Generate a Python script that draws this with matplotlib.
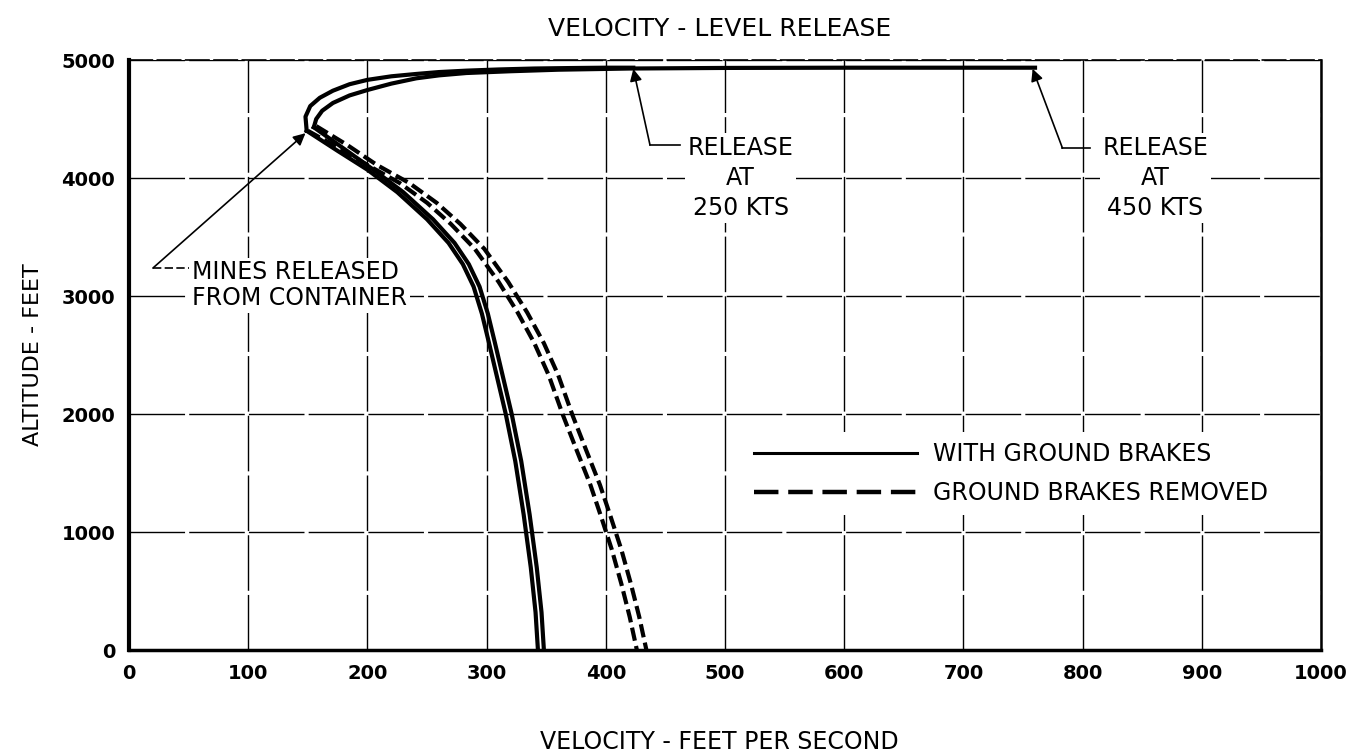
from matplotlib import pyplot as plt
from matplotlib.lines import Line2D

# velocity (ft/s) and altitude (ft)
# path before the mines leave the container (same for both brake cases)
top250V = [423, 400, 370, 340, 310, 283, 260, 241, 220, 200, 185, 171, 160, 152, 148, 149]
top250H = [4935, 4935, 4932, 4928, 4920, 4910, 4898, 4882, 4862, 4832, 4795, 4740, 4680, 4610, 4520, 4400]
top450V = [760, 700, 600, 500, 420, 360, 320, 283, 260, 241, 220, 200, 185, 171, 162, 157, 155]
top450H = [4935, 4935, 4935, 4933, 4928, 4918, 4905, 4890, 4870, 4845, 4800, 4746, 4700, 4636, 4570, 4500, 4430]

# with ground brakes
solidH = [4070, 3880, 3650, 3450, 3270, 3080, 2850, 2600, 2300, 2000, 1600, 1150, 700, 320, 0]
solid250V = [149, 175, 200, 225, 250, 268, 280, 289, 296, 302, 309, 316, 324, 331, 337, 341, 343]
solid250H = [4400, 4230] + solidH
solid450V = [155, 180, 205, 230, 255, 273, 285, 294, 301, 307, 314, 321, 329, 336, 342, 346, 348]
solid450H = [4430, 4250] + solidH

# ground brakes removed
dashH = [4110, 3958, 3790, 3610, 3400, 3120, 2860, 2600, 2330, 1990, 1680, 1400, 1130, 850, 560, 280, 0]
dash250V = [150, 175, 200, 227, 250, 270, 290, 310, 326, 340, 352, 364, 376, 387, 396, 405, 413, 420, 426]
dash250H = [4400, 4260] + dashH
dash450V = [157, 183, 208, 235, 258, 278, 298, 318, 334, 348, 360, 372, 384, 395, 404, 413, 421, 428, 434]
dash450H = [4440, 4280] + dashH

xTicks = [0, 100, 200, 300, 400, 500, 600, 700, 800, 900, 1000]
yTicks = [0, 1000, 2000, 3000, 4000, 5000]

fig = plt.figure(figsize=(13.5, 7.56), dpi=100)
ax = fig.add_axes([0.0956, 0.1402, 0.883, 0.7804])

ax.set_xlim(0, 1000)
ax.set_ylim(0, 5000)
ax.set_xticks(xTicks)
ax.set_yticks(yTicks)
ax.tick_params(length=0, labelsize=14, pad=10)
for lab in ax.get_xticklabels() + ax.get_yticklabels():
    lab.set_fontweight('bold')
ax.grid(True, color='black', linewidth=1.0, linestyle=(0, (40, 3)))
ax.set_axisbelow(True)
ax.spines['left'].set_linewidth(3)
ax.spines['bottom'].set_linewidth(2.5)
ax.spines['top'].set_linewidth(1.2)
ax.spines['top'].set_linestyle((0, (14, 3)))
ax.spines['right'].set_linewidth(1.8)

lw = 3.0
dash = (0, (3.2, 1.3))
ax.plot(top250V, top250H, color='black', linewidth=lw, zorder=3)
ax.plot(top450V, top450H, color='black', linewidth=lw, zorder=3)
ax.plot(solid250V, solid250H, color='black', linewidth=lw, zorder=3)
ax.plot(solid450V, solid450H, color='black', linewidth=lw, zorder=3)
ax.plot(dash250V, dash250H, color='black', linewidth=lw, linestyle=dash, zorder=3)
ax.plot(dash450V, dash450H, color='black', linewidth=lw, linestyle=dash, zorder=3)

white = dict(facecolor='white', edgecolor='none', pad=2)
arrow = dict(arrowstyle='-|>', color='black', linewidth=1.2, mutation_scale=18,
             shrinkA=0, shrinkB=0)

# mines released from container
ax.text(53, 3090, "MINES RELEASED\nFROM CONTAINER", fontsize=17,
        ha='left', va='center', linespacing=1.1, bbox=white, zorder=4)
ax.annotate('', xy=(148, 4380), xytext=(20, 3237), arrowprops=arrow, zorder=5)
ax.plot([20, 50], [3237, 3237], color='black', linewidth=1.2,
        linestyle=(0, (5, 2)), zorder=5)

# release points
ax.text(513, 4000, "RELEASE\nAT\n250 KTS", fontsize=17, ha='center',
        va='center', linespacing=1.3, bbox=white, zorder=4)
ax.annotate('', xy=(423, 4925), xytext=(437, 4280), arrowprops=arrow, zorder=5)
ax.plot([437, 462], [4280, 4280], color='black', linewidth=1.2, zorder=5)

ax.text(861, 4000, "RELEASE\nAT\n450 KTS", fontsize=17, ha='center',
        va='center', linespacing=1.3, bbox=white, zorder=4)
ax.annotate('', xy=(758, 4925), xytext=(783, 4254), arrowprops=arrow, zorder=5)
ax.plot([783, 806], [4254, 4254], color='black', linewidth=1.2, zorder=5)

handles = [Line2D([], [], color='black', linewidth=2.2),
           Line2D([], [], color='black', linewidth=3.2, linestyle=(0, (5.5, 2.2)))]
leg = ax.legend(handles, ["WITH GROUND BRAKES", "GROUND BRAKES REMOVED"],
                loc='center left', bbox_to_anchor=(0.516, 0.299),
                fontsize=17, handlelength=6.9, handletextpad=0.7,
                labelspacing=0.65, frameon=True, fancybox=False,
                borderpad=0.4, borderaxespad=0)
leg.get_frame().set_facecolor('white')
leg.get_frame().set_edgecolor('none')
leg.get_frame().set_alpha(1)
leg.set_zorder(6)

ax.set_ylabel("ALTITUDE - FEET", fontsize=16)
ax.yaxis.set_label_coords(-0.072, 0.5)
fig.text(0.533, 0.019, "VELOCITY - FEET PER SECOND", fontsize=17,
         ha='center', va='center')
fig.text(0.533, 0.962, "VELOCITY - LEVEL RELEASE", fontsize=18,
         ha='center', va='center')

plt.savefig('out.png', dpi=100)
plt.close()
